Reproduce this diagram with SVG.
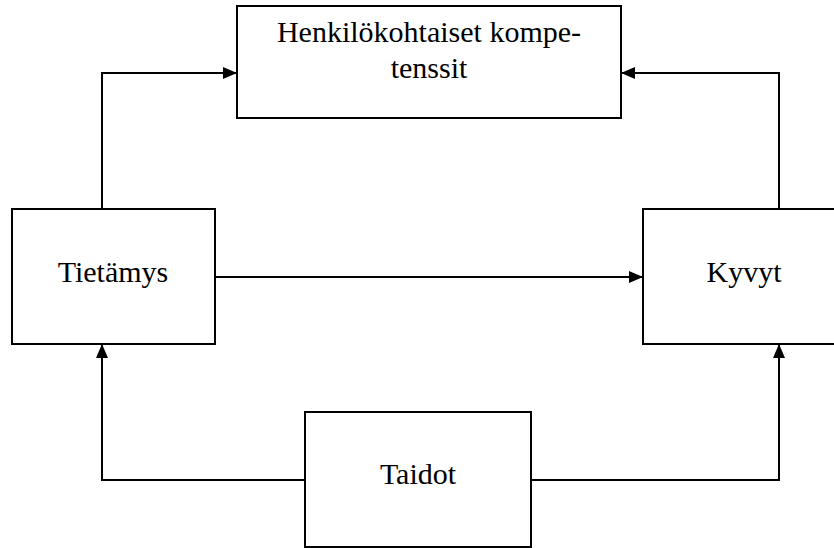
<svg xmlns="http://www.w3.org/2000/svg" width="834" height="548" viewBox="0 0 834 548">
<style>
.box{fill:#fff;stroke:#000;stroke-width:2}
.lbl{font-family:"Liberation Serif","Times New Roman",serif;font-size:30px;fill:#000;text-anchor:middle}
.con{fill:none;stroke:#000;stroke-width:2}
</style>
<defs>
<marker id="ah" viewBox="0 0 14 12" refX="14" refY="6" markerWidth="14" markerHeight="12" markerUnits="userSpaceOnUse" orient="auto">
<path d="M0,0 L14,6 L0,12 Z" fill="#000"/>
</marker>
</defs>
<g id="connectors">
<path class="con" d="M102,209 V73 H237" marker-end="url(#ah)"/>
<path class="con" d="M779,209 V73 H621" marker-end="url(#ah)"/>
<path class="con" d="M215,277 H643" marker-end="url(#ah)"/>
<path class="con" d="M305,480 H102 V344" marker-end="url(#ah)"/>
<path class="con" d="M531,480 H779 V344" marker-end="url(#ah)"/>
</g>
<g id="node-henkilokohtaiset">
<rect class="box" x="237" y="6" width="384" height="112"/>
<text class="lbl" x="429" y="42">Henkilökohtaiset kompe-</text>
<text class="lbl" x="429" y="78">tenssit</text>
</g>
<g id="node-tietamys">
<rect class="box" x="12" y="209" width="203" height="135"/>
<text class="lbl" x="113" y="282">Tietämys</text>
</g>
<g id="node-kyvyt">
<rect class="box" x="643" y="209" width="203" height="135"/>
<text class="lbl" x="744" y="282">Kyvyt</text>
</g>
<g id="node-taidot">
<rect class="box" x="305" y="412" width="226" height="135"/>
<text class="lbl" x="418" y="484">Taidot</text>
</g>
</svg>
